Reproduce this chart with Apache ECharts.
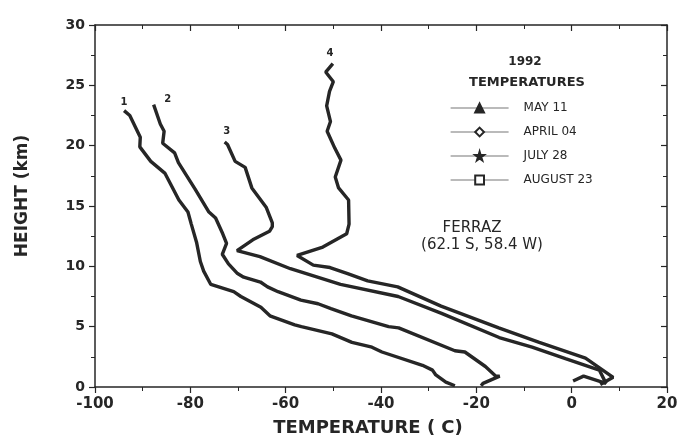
<!DOCTYPE html>
<html>
<head>
<meta charset="utf-8">
<script src="https://cdn.jsdelivr.net/npm/echarts@6/dist/echarts.min.js"></script>
<style>
  html, body { margin: 0; padding: 0; background: #fff; }
  #chartmain { width: 685px; height: 442px; }
</style>
</head>
<body>
<div id="chartmain"></div>
<script>
// tick values
var xTicks = [-100, -80, -60, -40, -20, 0, 20];
var yTicks = [0, 5, 10, 15, 20, 25, 30];

var seriesNames = ['MAY 11', 'APRIL 04', 'JULY 28', 'AUGUST 23'];
var curveLabels = ['1', '2', '3', '4'];

var may11 = [
  [-93.9, 22.9], [-92.7, 22.5], [-90.5, 20.7], [-90.6, 19.9], [-88.3, 18.7],
  [-85.3, 17.7], [-82.4, 15.5], [-80.5, 14.5], [-79.8, 13.5], [-78.7, 12.0],
  [-77.9, 10.4], [-77.2, 9.6], [-75.7, 8.5], [-70.9, 7.9], [-69.4, 7.5],
  [-65.2, 6.6], [-63.3, 5.9], [-58.1, 5.15], [-56.7, 5.0], [-50.3, 4.4],
  [-46.1, 3.7], [-41.9, 3.3], [-39.8, 2.9], [-31.3, 1.8], [-29.2, 1.4],
  [-28.5, 1.0], [-26.4, 0.4], [-24.5, 0.1]
];
var april04 = [
  [-87.7, 23.4], [-86.3, 21.8], [-85.5, 21.2], [-85.8, 20.2], [-83.3, 19.4],
  [-82.5, 18.6], [-79.0, 16.4], [-76.1, 14.5], [-74.7, 14.0], [-73.2, 12.7],
  [-72.4, 11.9], [-73.3, 11.0], [-72.0, 10.2], [-70.1, 9.4], [-68.8, 9.1],
  [-65.3, 8.7], [-63.8, 8.3], [-61.6, 7.9], [-56.8, 7.2], [-53.2, 6.9],
  [-50.5, 6.5], [-46.2, 5.9], [-38.4, 5.0], [-36.3, 4.9], [-24.5, 3.0],
  [-22.4, 2.9], [-18.1, 1.7], [-15.9, 0.9], [-15.1, 0.9], [-18.6, 0.3],
  [-19.0, 0.1]
];
var july28 = [
  [-72.8, 20.3], [-72.2, 20.1], [-70.6, 18.7], [-68.5, 18.2], [-67.1, 16.5],
  [-64.1, 14.9], [-62.8, 13.6], [-62.8, 13.3], [-63.4, 12.9], [-66.9, 12.2],
  [-70.2, 11.3], [-65.4, 10.8], [-59.0, 9.8], [-48.5, 8.5], [-36.4, 7.5],
  [-27.3, 6.1], [-15.2, 4.1], [-8.3, 3.3], [-1.3, 2.35], [5.8, 1.4],
  [7.2, 0.3], [2.5, 0.9], [0.3, 0.5]
];
var august23 = [
  [-50.1, 26.8], [-51.6, 26.1], [-50.0, 25.3], [-50.8, 24.5], [-51.4, 23.3],
  [-50.6, 22.0], [-51.3, 21.2], [-49.7, 19.8], [-48.4, 18.8], [-49.6, 17.4],
  [-48.9, 16.5], [-46.8, 15.5], [-46.7, 13.5], [-47.2, 12.7], [-52.2, 11.6],
  [-57.6, 10.9], [-54.2, 10.1], [-50.7, 9.9], [-47.0, 9.4], [-42.8, 8.8],
  [-36.5, 8.3], [-27.4, 6.7], [-15.3, 4.9], [-6.8, 3.7], [2.9, 2.4],
  [8.7, 0.8], [6.0, 0.2]
];

var curves = [may11, april04, july28, august23];
var symbols = [
  'triangle',
  'emptyDiamond',
  'path://M50,0 L61,35 L98,35 L68,57 L79,91 L50,70 L21,91 L32,57 L2,35 L39,35 Z',
  'emptyRect'
];
var labelOffsets = [[0, 2], [14, 5], [2, 0], [-3, 0]];

var font = 'DejaVu Sans, Liberation Sans, sans-serif';
var ink = '#262626';

var myChart = echarts.init(document.getElementById('chartmain'));

var series = [];
for (var i = 0; i < curves.length; i++) {
  series.push({
    name: seriesNames[i],
    type: 'line',
    data: curves[i],
    symbol: symbols[i],
    symbolSize: 8,
    showSymbol: false,
    lineStyle: { color: ink, width: 3.4 },
    itemStyle: { color: ink, borderColor: ink, borderWidth: 2 },
    z: 3,
    markPoint: {
      symbol: 'circle',
      symbolSize: 1,
      itemStyle: { color: 'rgba(0,0,0,0)' },
      label: {
        show: true,
        position: 'top',
        formatter: curveLabels[i],
        offset: labelOffsets[i],
        color: ink,
        fontSize: 10,
        fontWeight: 'bold',
        fontFamily: font
      },
      data: [{ coord: curves[i][0] }]
    }
  });
}

function note(text, x, y, size, weight) {
  return {
    type: 'text', x: x, y: y, z: 10,
    style: {
      text: text, fill: ink, font: weight + ' ' + size + 'px ' + font,
      align: 'center', verticalAlign: 'middle'
    }
  };
}

var axisText = { fontSize: 15, fontWeight: 'bold', color: ink, fontFamily: font };

var option = {
  backgroundColor: '#fff',
  animation: false,
  graphic: [
    note('1992', 525, 62, 12, 'bold'),
    note('TEMPERATURES', 527, 83, 13, 'bold'),
    note('FERRAZ', 472, 228, 15, 'normal'),
    note('(62.1 S, 58.4 W)', 482, 245, 15, 'normal')
  ],
  legend: {
    data: seriesNames,
    orient: 'vertical',
    left: 445,
    top: 97,
    itemWidth: 58,
    itemHeight: 11,
    itemGap: 12,
    lineStyle: { width: 1.2, color: '#777' },
    itemStyle: { color: ink, borderColor: ink, borderWidth: 2 },
    textStyle: { fontSize: 12, fontWeight: 'normal', color: ink, fontFamily: font, padding: [0, 0, 0, 10] }
  },
  grid: { left: 95, right: 18, top: 25, bottom: 52 },
  xAxis: [{
    type: 'value',
    min: xTicks[0],
    max: xTicks[xTicks.length - 1],
    interval: 20,
    name: 'TEMPERATURE ( C)',
    nameLocation: 'middle',
    nameGap: 32,
    nameTextStyle: { fontSize: 18, fontWeight: 'bold', color: ink, fontFamily: font, padding: [0, 26, 0, 0] },
    axisLine: { onZero: false, lineStyle: { color: ink, width: 1.5 } },
    axisTick: { length: 6, lineStyle: { color: ink, width: 1.2 } },
    minorTick: { show: true, splitNumber: 2, length: 4, lineStyle: { color: ink } },
    splitLine: { show: false },
    axisLabel: Object.assign({ margin: 10 }, axisText)
  }, {
    type: 'value',
    position: 'top',
    min: xTicks[0],
    max: xTicks[xTicks.length - 1],
    interval: 20,
    axisLine: { onZero: false, lineStyle: { color: ink, width: 1.5 } },
    axisTick: { inside: true, length: 6, lineStyle: { color: ink, width: 1.2 } },
    minorTick: { show: true, splitNumber: 2, length: 4, lineStyle: { color: ink } },
    splitLine: { show: false },
    axisLabel: { show: false }
  }],
  yAxis: [{
    type: 'value',
    min: yTicks[0],
    max: yTicks[yTicks.length - 1],
    interval: 5,
    name: 'HEIGHT (km)',
    nameLocation: 'middle',
    nameRotate: 90,
    nameGap: 64,
    nameTextStyle: { fontSize: 17, fontWeight: 'bold', color: ink, fontFamily: font, padding: [0, 0, 0, 20] },
    axisLine: { onZero: false, lineStyle: { color: ink, width: 1.5 } },
    axisTick: { length: 6, lineStyle: { color: ink, width: 1.2 } },
    minorTick: { show: true, splitNumber: 2, length: 4, lineStyle: { color: ink } },
    splitLine: { show: false },
    axisLabel: Object.assign({ margin: 10 }, axisText, { fontSize: 14 })
  }, {
    type: 'value',
    position: 'right',
    min: yTicks[0],
    max: yTicks[yTicks.length - 1],
    interval: 5,
    axisLine: { onZero: false, lineStyle: { color: ink, width: 1.5 } },
    axisTick: { inside: true, length: 6, lineStyle: { color: ink, width: 1.2 } },
    minorTick: { show: true, splitNumber: 2, length: 4, lineStyle: { color: ink } },
    splitLine: { show: false },
    axisLabel: { show: false }
  }],
  series: series
};

myChart.setOption(option);
</script>
</body>
</html>
